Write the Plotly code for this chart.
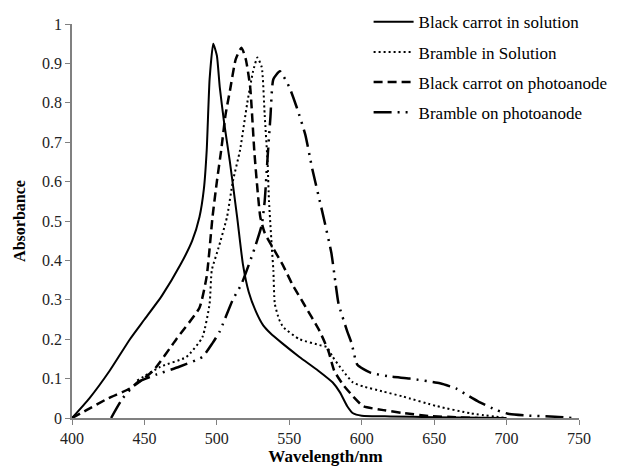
import plotly.graph_objects as go

# Black carrot in solution
bc_sol_wl = [400, 412, 426, 440, 450, 462, 475, 483, 488, 491, 493, 495, 497.5, 500, 502, 505, 509, 514, 518, 522, 527, 532, 537, 545, 557, 570, 580, 585, 590, 594, 600, 620, 650, 700]
bc_sol_a = [0, 0.05, 0.12, 0.2, 0.25, 0.31, 0.39, 0.45, 0.51, 0.58, 0.68, 0.86, 0.95, 0.92, 0.84, 0.75, 0.65, 0.51, 0.39, 0.32, 0.27, 0.235, 0.215, 0.19, 0.155, 0.12, 0.09, 0.065, 0.03, 0.012, 0.006, 0.004, 0.002, 0]

# Bramble in Solution
br_sol_wl = [445, 461, 479, 490, 495, 496.5, 501, 507, 511, 516, 521, 525, 528, 531, 533, 535, 536, 538, 539, 540, 543, 546, 557, 571, 576, 580, 587, 594, 601, 615, 628, 652, 675, 700]
br_sol_a = [0.095, 0.13, 0.155, 0.205, 0.29, 0.375, 0.43, 0.51, 0.6, 0.68, 0.8, 0.88, 0.915, 0.89, 0.77, 0.65, 0.55, 0.43, 0.375, 0.29, 0.25, 0.23, 0.2, 0.185, 0.18, 0.155, 0.12, 0.09, 0.08, 0.067, 0.055, 0.03, 0.012, 0]

# Black carrot on photoanode
bc_pa_wl = [400, 410, 425, 440, 456, 472, 488, 493, 497, 500, 503, 506, 509, 513, 517, 520, 523, 526, 530, 533, 539, 546, 552, 560, 571, 577, 581, 587, 594, 601, 615, 628, 647, 665, 680]
bc_pa_a = [0, 0.02, 0.05, 0.075, 0.12, 0.2, 0.28, 0.36, 0.51, 0.6, 0.68, 0.77, 0.83, 0.91, 0.94, 0.91, 0.84, 0.67, 0.51, 0.47, 0.43, 0.385, 0.34, 0.29, 0.22, 0.17, 0.12, 0.085, 0.055, 0.03, 0.02, 0.013, 0.005, 0.002, 0]

# Bramble on photoanode
br_pa_wl = [427, 435, 445, 458, 474, 490, 497, 502, 511, 517, 526, 531, 533, 535, 537, 539, 543.5, 550, 555, 561, 566, 573, 579, 582, 584, 590, 593, 597, 606, 620, 633, 654, 665, 672, 680, 693, 702, 715, 730, 745]
br_pa_a = [0, 0.05, 0.09, 0.11, 0.13, 0.155, 0.19, 0.22, 0.3, 0.34, 0.43, 0.49, 0.55, 0.66, 0.765, 0.86, 0.88, 0.84, 0.79, 0.72, 0.63, 0.52, 0.42, 0.34, 0.29, 0.22, 0.19, 0.135, 0.115, 0.105, 0.1, 0.088, 0.075, 0.06, 0.043, 0.02, 0.01, 0.006, 0.004, 0]

x_ticks = [400, 450, 500, 550, 600, 650, 700, 750]
y_ticks = [0, 0.1, 0.2, 0.3, 0.4, 0.5, 0.6, 0.7, 0.8, 0.9, 1]
y_tick_labels = ["0", "0.1", "0.2", "0.3", "0.4", "0.5", "0.6", "0.7", "0.8", "0.9", "1"]

FONT = "Liberation Serif"
series = [
    ("Black carrot in solution", bc_sol_wl, bc_sol_a, "solid", 2),
    ("Bramble in Solution", br_sol_wl, br_sol_a, "2px,3px", 2),
    ("Black carrot on photoanode", bc_pa_wl, bc_pa_a, "9px,5px", 2.5),
    ("Bramble on photoanode", br_pa_wl, br_pa_a, "18px,6px,2px,6px,2px,6px", 2.5),
]

fig = go.Figure()
for i, (name, xs, ys, dash, w) in enumerate(series):
    fig.add_trace(go.Scatter(
        x=xs, y=ys, name=name, mode="lines", legendgroup=f"g{i}",
        line=dict(color="black", width=w, dash=dash, shape="spline", smoothing=0.5),
    ))

# page body adds an 8px margin, so the figure is 8px smaller each way
fig.update_layout(
    width=613, height=460,
    margin=dict(l=64, r=42, t=16, b=50, autoexpand=False),
    plot_bgcolor="white", paper_bgcolor="white",
    font=dict(family=FONT, size=16, color="black"),
    showlegend=True,
    legend=dict(x=0.585, y=1.05, xanchor="left", yanchor="top",
                font=dict(family=FONT, size=17, color="black"),
                bgcolor="rgba(0,0,0,0)", tracegroupgap=5, itemwidth=40),
)
fig.update_xaxes(
    range=[400, 750], tickvals=x_ticks, ticks="outside", ticklen=5, tickcolor="#808080",
    showline=True, linecolor="#808080", linewidth=1.5, showgrid=False, zeroline=False,
    tickfont=dict(family=FONT, size=16, color="#222222"),
    title=dict(text="<b>Wavelength/nm</b>", font=dict(family=FONT, size=17), standoff=4),
)
fig.update_yaxes(
    range=[0, 1], tickvals=y_ticks, ticktext=y_tick_labels, ticks="outside", ticklen=5,
    tickcolor="#808080", showline=True, linecolor="#808080", linewidth=1.5,
    showgrid=False, zeroline=False, tickfont=dict(family=FONT, size=16, color="#222222"),
    title=dict(text="<b>Absorbance</b>", font=dict(family=FONT, size=16), standoff=12),
)

fig.write_html("out.html")
